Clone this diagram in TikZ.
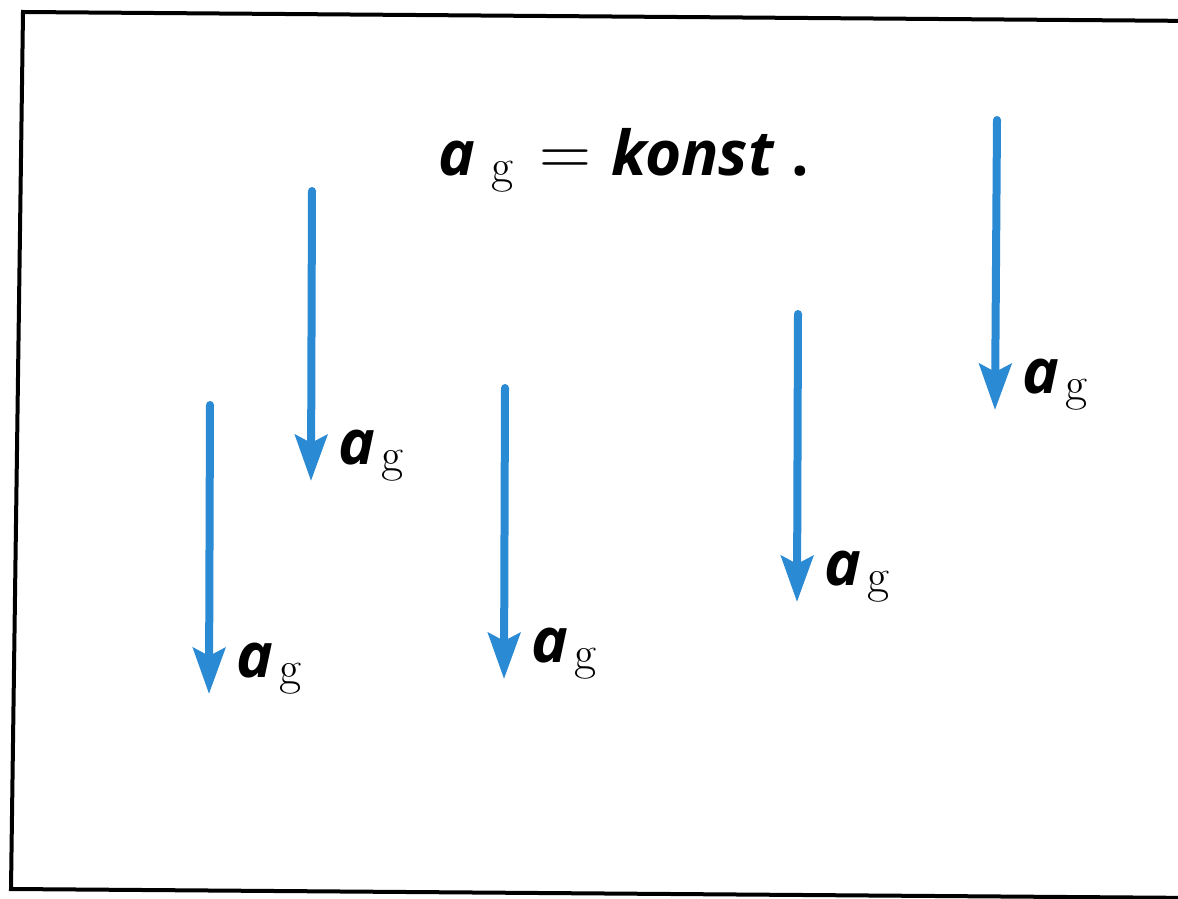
\documentclass[tikz,border=0pt]{standalone}
\usepackage{fontspec}
\newfontfamily\osans{Open Sans}
\usetikzlibrary{arrows.meta,calc}
\definecolor{agblue}{HTML}{2A8AD4}
\newcommand\agsym[1]{{\osans\bfseries\itshape a}\hspace{#1}\raisebox{-3.5pt}{\fontsize{24}{24}\selectfont g}}
\begin{document}
\begin{tikzpicture}[x=0.5pt,y=-0.5pt,
  acc/.style={draw=agblue, line width=4pt, line cap=round, -{Stealth[length=23pt,width=16pt,inset=4pt]}},
  lbl/.style={anchor=base west, inner sep=0pt, font=\fontsize{31}{31}\selectfont},
  frame/.style={draw=black, line width=2pt}]
\useasboundingbox (0,0) rectangle (1178,899);
\fill[white] (0,0) rectangle (1178,899);
\draw[frame] (1200,21) -- (23,12) -- (11,889) -- (1200,898);
% title
\node[lbl] (title) at (438,176) {\agsym{8pt}\hspace{13pt}{\fontsize{36}{36}\selectfont=}\hspace{10pt}{\osans\bfseries\itshape konst}\hspace{9pt}{\osans\bfseries .}};
% arrows
\coordinate (s1) at (312,191); \coordinate (t1) at (311,481);
\coordinate (s2) at (210,405); \coordinate (t2) at (209,694);
\coordinate (s3) at (505,388); \coordinate (t3) at (504,679);
\coordinate (s4) at (798,314); \coordinate (t4) at (797,602);
\coordinate (s5) at (997,120); \coordinate (t5) at (995,410);
\foreach \i in {1,...,5} {
  \draw[acc] (s\i) -- (t\i);
  \node[lbl] (l\i) at ($(t\i)+(27,-17)$) {\agsym{3pt}};
}
\end{tikzpicture}
\end{document}
